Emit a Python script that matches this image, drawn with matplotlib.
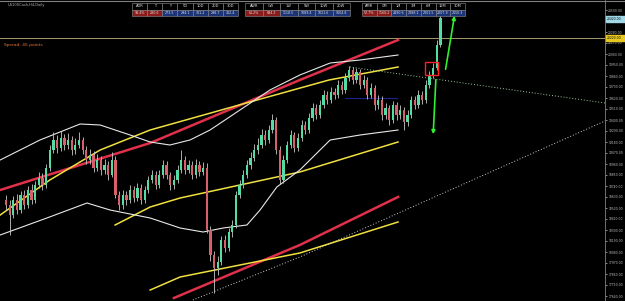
import matplotlib
matplotlib.use("Agg")
import matplotlib.pyplot as plt
from matplotlib.patches import Rectangle

# candles (H4), oldest first
opens = [18600, 18550, 18450, 18600, 18500, 18650, 18550, 18700, 18600, 18750,
         18820, 18750, 18920, 19100, 19200, 19120, 19220, 19150, 19200, 19100,
         19150, 19200, 19100, 19000, 19050, 18920, 19000, 18900, 18950, 18850,
         19000, 18650, 18550, 18650, 18600, 18700, 18620, 18720, 18600, 18700,
         18800, 18850, 18750, 18850, 18950, 18850, 18750, 18800, 18900, 19000,
         18900, 18950, 18850, 18950, 18880, 18920, 18300, 18050, 17920, 17980,
         18200, 18120, 18280, 18350, 18650, 18750, 18850, 18950, 19020, 19100,
         19150, 19250, 19200, 19300, 19400, 19100, 18800, 19000, 19150, 19250,
         19120, 19220, 19350, 19300, 19420, 19520, 19450, 19550, 19650, 19600,
         19680, 19650, 19750, 19700, 19820, 19900, 19800, 19880, 19750, 19800,
         19650, 19720, 19550, 19600, 19450, 19520, 19400, 19550, 19450, 19500,
         19380, 19450, 19600, 19550, 19650, 19600, 19750, 19850, 19920, 20150]
closes = [18550, 18450, 18600, 18500, 18650, 18550, 18700, 18600, 18750, 18820,
          18750, 18920, 19100, 19200, 19120, 19220, 19150, 19200, 19100, 19150,
          19200, 19100, 19000, 19050, 18920, 19000, 18900, 18950, 18850, 19000,
          18650, 18550, 18650, 18600, 18700, 18620, 18720, 18600, 18700, 18800,
          18850, 18750, 18850, 18950, 18850, 18750, 18800, 18900, 19000, 18900,
          18950, 18850, 18950, 18880, 18920, 18300, 18050, 17920, 17980, 18200,
          18120, 18280, 18350, 18650, 18750, 18850, 18950, 19020, 19100, 19150,
          19250, 19200, 19300, 19400, 19100, 18800, 19000, 19150, 19250, 19120,
          19220, 19350, 19300, 19420, 19520, 19450, 19550, 19650, 19600, 19680,
          19650, 19750, 19700, 19820, 19900, 19800, 19880, 19750, 19800, 19650,
          19720, 19550, 19600, 19450, 19520, 19400, 19550, 19450, 19500, 19380,
          19450, 19600, 19550, 19650, 19600, 19750, 19850, 19920, 20150, 20420]
highs = [18650, 18600, 18640, 18660, 18690, 18700, 18740, 18760, 18790, 18880,
         18870, 18960, 19150, 19280, 19250, 19290, 19260, 19270, 19240, 19220,
         19280, 19230, 19140, 19110, 19090, 19060, 19040, 19010, 18990, 19080,
         19040, 18690, 18700, 18690, 18750, 18740, 18770, 18760, 18740, 18840,
         18900, 18890, 18900, 19000, 18990, 18880, 18850, 18950, 19100, 19040,
         19000, 18990, 19010, 18990, 18980, 18970, 18340, 18090, 18040, 18240,
         18250, 18320, 18400, 18690, 18800, 18900, 19000, 19080, 19160, 19220,
         19310, 19300, 19350, 19460, 19430, 19140, 19050, 19190, 19300, 19280,
         19270, 19400, 19390, 19470, 19570, 19560, 19600, 19700, 19690, 19730,
         19720, 19800, 19790, 19870, 19940, 19930, 19920, 19910, 19850, 19830,
         19770, 19750, 19650, 19640, 19570, 19550, 19590, 19580, 19550, 19530,
         19500, 19640, 19640, 19700, 19690, 19800, 19890, 19970, 20200, 20520]
lows = [18500, 18250, 18420, 18460, 18470, 18510, 18520, 18560, 18570, 18720,
        18700, 18720, 18890, 19070, 19070, 19090, 19100, 19110, 19050, 19060,
        19120, 19060, 18960, 18960, 18880, 18890, 18850, 18860, 18800, 18830,
        18620, 18500, 18510, 18550, 18570, 18580, 18590, 18560, 18570, 18670,
        18770, 18710, 18720, 18820, 18810, 18700, 18710, 18770, 18870, 18860,
        18870, 18810, 18820, 18840, 18850, 18270, 17990, 17670, 17850, 17950,
        18080, 18090, 18230, 18320, 18620, 18720, 18820, 18910, 18990, 19060,
        19120, 19150, 19170, 19270, 19060, 18760, 18770, 18970, 19120, 19080,
        19090, 19190, 19260, 19270, 19390, 19410, 19420, 19520, 19560, 19570,
        19610, 19620, 19660, 19670, 19790, 19760, 19770, 19710, 19720, 19610,
        19620, 19500, 19510, 19400, 19410, 19350, 19370, 19400, 19410, 19300,
        19340, 19420, 19510, 19520, 19560, 19570, 19720, 19820, 19900, 20130]

# indicator lines as (bar index, price) anchor points
ma_red_up = [(-1.6, 18700), (39.5, 19170), (80.5, 19800), (107.4, 20200)]
ma_red_low = [(46, 17620), (80.5, 18150), (107.4, 18630)]
ma_yel_up = [(-1.6, 18450), (12, 18800), (25.8, 19100), (39.5, 19300),
             (66.8, 19580), (88.5, 19800), (107.4, 19930)]
ma_yel_mid = [(29.9, 18350), (39.5, 18530), (47.7, 18620), (80.5, 18880), (107.4, 19180)]
ma_yel_low = [(39.5, 17700), (47.7, 17830), (80.5, 18070), (107.4, 18380)]
band_up = [(-1.6, 19000), (9.3, 19200), (20.3, 19360), (25.8, 19350), (34, 19250),
           (39.5, 19180), (44.9, 19150), (50.4, 19200), (55.9, 19300), (64.1, 19500),
           (72.3, 19700), (80.5, 19850), (88.8, 19970), (97, 20000), (107.4, 20050)]
band_low = [(-1.6, 18250), (11.2, 18420), (22.2, 18570), (28.5, 18500), (39.5, 18420),
            (47.7, 18320), (54, 18280), (59.5, 18320), (66, 18350), (69.6, 18500),
            (74.2, 18730), (80.5, 18900), (88.8, 19200), (97, 19250), (107.4, 19300)]
trend_down = [(94.2, 19930), (164.1, 19570)]
trend_up = [(51.2, 17600), (80.5, 18030), (164.1, 19390)]
blue_seg = [(93, 19620), (107, 19620)]

level_line = 20220
arrow_down = ((117.8, 19830), (117.0, 19230))
arrow_up = ((120.3, 19880), (123.0, 20470))
box = (114.8, 19850, 118.4, 19980)

price_ticks = [20500, 20390, 20280, 20170, 20060, 19950, 19840, 19730, 19620,
               19510, 19400, 19290, 19180, 19070, 18960, 18850, 18740, 18630,
               18520, 18410, 18300, 18190, 18080, 17970, 17860, 17750, 17640]

tables = [
    (132, ["ADR", "T", "Y", "5D", "10D", "20D", "30D"],
          ["93.4%", "280.6", "273.5", "294.1", "301.2", "298.7", "312.4"]),
    (245, ["AWR", "CW", "1W", "5W", "10W", "20W"],
          ["61.2%", "694.3", "1118.5", "1089.4", "1021.6", "1004.8"]),
    (362, ["AMR", "CM", "1M", "3M", "6M", "12M", "30M"],
          ["57.7%", "1160.2", "2490.6", "2388.1", "2301.5", "2207.9", "2150.3"]),
]
table_widths = [106, 105, 103]

W, H = 625, 301
fig = plt.figure(figsize=(W / 100, H / 100), dpi=100, facecolor="black")
ax = fig.add_axes([0, 0, 605 / W, 1], facecolor="black")
ax.set_xlim(-1.64, 164.1)
ax.set_ylim(17590, 20600)

bull, bear = "#55dca5", "#d8606a"
for i in range(len(closes)):
    col = bull if closes[i] >= opens[i] else bear
    ax.vlines(i, lows[i], highs[i], color="#c8c8c8", lw=0.6, zorder=3)
    lo, hi = min(opens[i], closes[i]), max(opens[i], closes[i])
    ax.bar(i, hi - lo, bottom=lo, width=0.62, color=col, lw=0, zorder=4)


def line(pts, **kw):
    ax.plot([p[0] for p in pts], [p[1] for p in pts], **kw)


line(ma_red_up, color="#e0304a", lw=1.8, zorder=2)
line(ma_red_low, color="#e0304a", lw=1.8, zorder=2)
for pts in (ma_yel_up, ma_yel_mid, ma_yel_low):
    line(pts, color="#f0e040", lw=1.1, zorder=2)
line(band_up, color="#e8e8e8", lw=0.8, zorder=2)
line(band_low, color="#e8e8e8", lw=0.8, zorder=2)
line(trend_down, color="#a0c8a0", lw=0.7, ls=(0, (1, 2)), zorder=2)
line(trend_up, color="#d0d0d0", lw=0.7, ls=(0, (1, 2)), zorder=2)
line(blue_seg, color="#18248c", lw=0.8, zorder=2)

ax.axhline(level_line, color="#a89870", lw=0.7, zorder=1)

for (x0, y0), (x1, y1) in (arrow_down, arrow_up):
    ax.annotate("", xy=(x1, y1), xytext=(x0, y0),
                arrowprops=dict(arrowstyle="-|>", color="#30f030", lw=1.2,
                                mutation_scale=5), zorder=6)

ax.add_patch(Rectangle((box[0], box[1]), box[2] - box[0], box[3] - box[1],
                       fill=False, ec="#ff2020", lw=1.0, zorder=6))

ax.yaxis.tick_right()
ax.set_yticks(price_ticks)
ax.set_yticklabels([f"{v:.2f}" for v in price_ticks])
ax.tick_params(axis="y", colors="#c0c0c0", labelsize=2.2, length=1.5, width=0.5, pad=0.8)
ax.set_xticks([])
for s in ("top", "left", "bottom"):
    ax.spines[s].set_visible(False)
ax.spines["right"].set_color("#808080")
ax.spines["right"].set_linewidth(0.6)

# overlay in pixel coords for panel texts
ov = fig.add_axes([0, 0, 1, 1], facecolor="none")
ov.set_xlim(0, W)
ov.set_ylim(H, 0)
ov.axis("off")
ov.axhline(1, color="#808080", lw=0.8)

ov.text(8, 5, "US100Cash,H4,Daily", color="#b0b0b0", fontsize=2.6, va="center")
ov.text(4, 45, "Spread: 45 points", color="#e87830", fontsize=3.2, va="center")

# current price and level labels on the axis
for yp, txt, bg in ((19, "20420.00", "#a0d8e8"), (38, "20220.00", "#e8c820")):
    ov.add_patch(Rectangle((606, yp - 3), 19, 6, color=bg, zorder=5))
    ov.text(607, yp, txt, fontsize=2.2, color="black", va="center", zorder=6)

for (x0, heads, vals), tw in zip(tables, table_widths):
    cw = tw / len(heads)
    for k, (hd, vl) in enumerate(zip(heads, vals)):
        cx = x0 + k * cw
        ov.add_patch(Rectangle((cx, 3), cw, 6.5, fc="black", ec="#909090", lw=0.4))
        ov.text(cx + cw / 2, 6.3, hd, color="#e0e0e0", fontsize=2.6,
                ha="center", va="center")
        bg = "#8a1c1c" if k < 2 else "#1c3478"
        ov.add_patch(Rectangle((cx, 9.5), cw, 6.5, fc=bg, ec="#909090", lw=0.4))
        ov.text(cx + cw / 2, 12.8, vl, color="#e0e0e0", fontsize=2.3,
                ha="center", va="center")

fig.savefig("out.png", dpi=100, facecolor="black")
